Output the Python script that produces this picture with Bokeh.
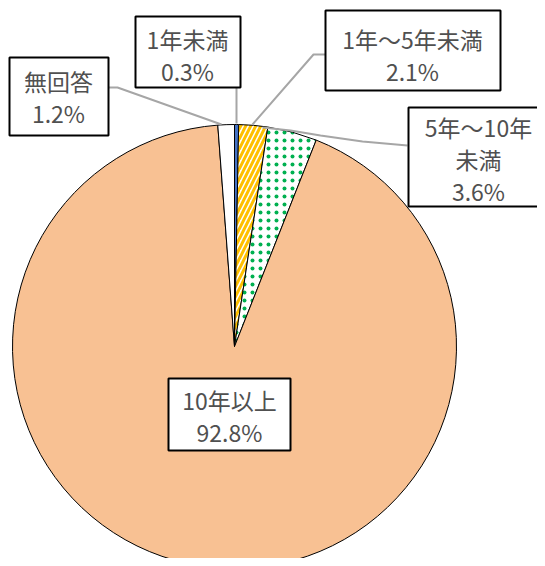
import math
from bokeh.plotting import figure
from bokeh.models import Range1d
from bokeh.core.properties import value
from bokeh.embed import file_html
from bokeh.resources import INLINE

# ---- data ----
categories = ["1年未満", "1年～5年未満", "5年～10年未満", "10年以上", "無回答"]
shares = [0.3, 2.1, 3.6, 92.8, 1.2]
label_lines = [["1年未満", "0.3%"], ["1年～5年未満", "2.1%"], ["5年～10年", "未満", "3.6%"],
               ["10年以上", "92.8%"], ["無回答", "1.2%"]]
fills = ["#4472C4", "white", "white", "#F8C193", "white"]
hatches = [None, "/", ".", None, None]
hatch_colors = [None, "#FFC000", "#00B050", None, None]

W, H = 537, 558
def Y(img_y):
    return H - img_y

p = figure(width=W, height=H, output_backend="svg", toolbar_location=None,
           x_range=Range1d(0, W), y_range=Range1d(0, H), min_border=0)
p.axis.visible = False
p.grid.visible = False
p.outline_line_color = None
p.background_fill_color = "white"

cx, cy, R = 234, Y(346), 222
total = sum(shares)
cum = 0.0
for cat, s, fc, hp, hc in zip(categories, shares, fills, hatches, hatch_colors):
    end = math.pi / 2 - cum / total * 2 * math.pi
    cum += s
    start = math.pi / 2 - cum / total * 2 * math.pi
    kw = dict(x=cx, y=cy, radius=R, start_angle=start, end_angle=end,
              fill_color=fc, line_color="black", line_width=1)
    if hp:
        kw.update(hatch_pattern=hp, hatch_color=hc)
        if hp == "/":
            kw.update(hatch_scale=10, hatch_weight=3)
        else:
            kw.update(hatch_scale=8, hatch_weight=1.2)
    p.wedge(**kw)

# leader lines (image coords)
leaders = [
    [(236, 87), (236, 123)],
    [(325, 54), (313, 54), (252, 124)],
    [(407, 145), (362, 141), (320, 135), (290, 130), (262, 127)],
    [(108, 87), (117, 87), (221, 124)],
]
for pts in leaders:
    p.line([q[0] for q in pts], [Y(q[1]) for q in pts], line_color="#A6A6A6", line_width=2)

# label boxes: (left, right, top, bottom, text center x, first line y)
boxes = [
    (135, 240, 16, 87, 187, 38),
    (325, 500, 10, 90, 412, 38),
    (408, 560, 107, 206, 478, 126),
    (168, 290, 378, 450, 229, 399),
    (9, 108, 57, 135, 58, 80),
]
for lines, (l, r, t, b, tx, ty) in zip(label_lines, boxes):
    p.quad(left=l, right=r, top=Y(t), bottom=Y(b), fill_color="white",
           line_color="black", line_width=2)
    for i, ln in enumerate(lines):
        p.text(x=[tx], y=[Y(ty + i * 32)], text=[ln], text_align="center",
               text_baseline="middle", text_font=value("Noto Sans CJK JP"),
               text_font_size="23px", text_color="#505050")

open("out.html", "w").write(file_html(p, INLINE))
